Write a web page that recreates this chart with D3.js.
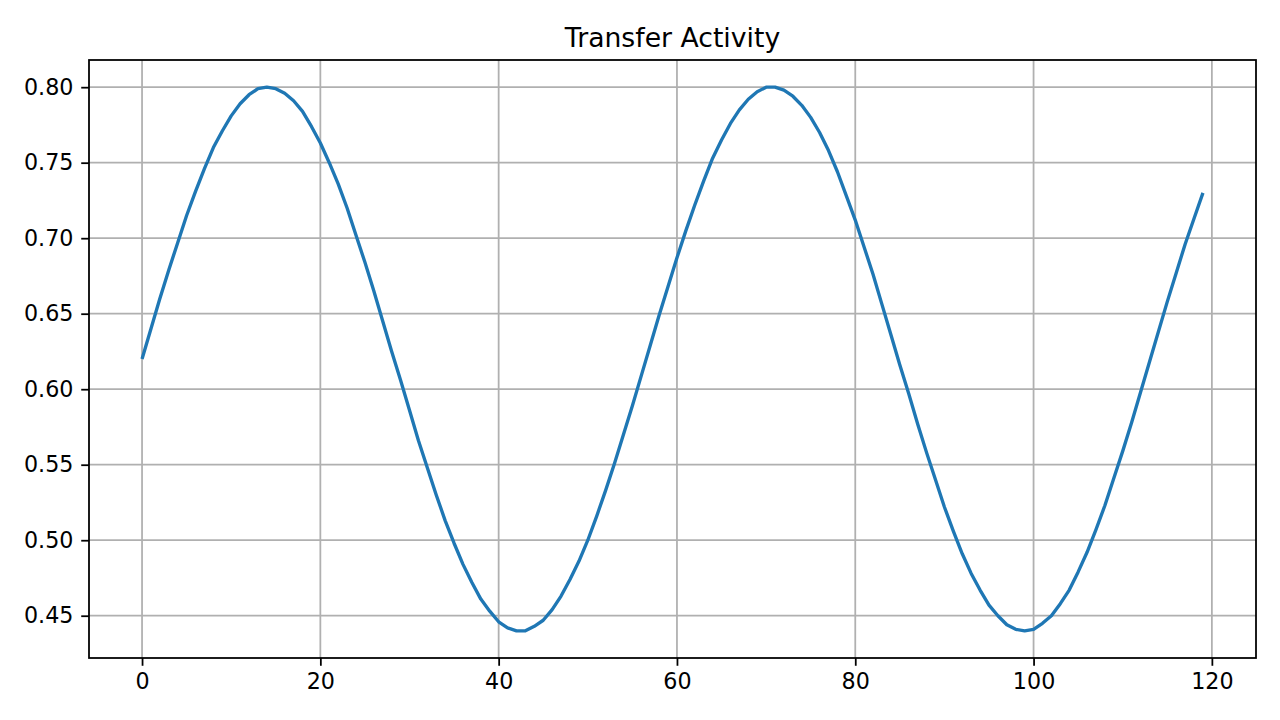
<!DOCTYPE html>
<meta charset="utf-8">
<title>Transfer Activity</title>
<style>
body { margin: 0; background: #fff; }
svg { display: block; font-family: "DejaVu Sans", sans-serif; }
</style>
<body></body>
<script src="https://d3js.org/d3.v7.min.js"></script>
<script>
var chartTitle = 'Transfer Activity';

// activity per step
var activity = [
  0.620, 0.640, 0.660, 0.679, 0.697, 0.715, 0.731, 0.746, 0.760, 0.771,
  0.781, 0.789, 0.795, 0.799, 0.800, 0.799, 0.796, 0.791, 0.784, 0.774,
  0.763, 0.750, 0.736, 0.720, 0.702, 0.684, 0.665, 0.645, 0.625, 0.606,
  0.586, 0.566, 0.548, 0.530, 0.513, 0.498, 0.484, 0.472, 0.461, 0.453,
  0.446, 0.442, 0.440, 0.440, 0.443, 0.447, 0.454, 0.463, 0.474, 0.486,
  0.500, 0.516, 0.533, 0.551, 0.570, 0.589, 0.609, 0.629, 0.649, 0.668,
  0.687, 0.705, 0.722, 0.738, 0.753, 0.765, 0.776, 0.785, 0.792, 0.797,
  0.800, 0.800, 0.798, 0.794, 0.788, 0.780, 0.770, 0.758, 0.744, 0.728,
  0.712, 0.694, 0.676, 0.656, 0.636, 0.616, 0.597, 0.577, 0.558, 0.540,
  0.522, 0.506, 0.491, 0.478, 0.467, 0.457, 0.450, 0.444, 0.441, 0.440,
  0.441, 0.445, 0.450, 0.458, 0.467, 0.479, 0.492, 0.507, 0.523, 0.541,
  0.559, 0.578, 0.598, 0.618, 0.638, 0.658, 0.677, 0.696, 0.713, 0.730
];
var steps = activity.map(function (d, i) { return i; });

var xTicks = [0, 20, 40, 60, 80, 100, 120];
var yTicks = [0.45, 0.50, 0.55, 0.60, 0.65, 0.70, 0.75, 0.80];

var width = 1280, height = 720;
var margin = { top: 60, right: 24, bottom: 62, left: 89 };
var plotW = width - margin.left - margin.right,
    plotH = height - margin.top - margin.bottom;

// points -> pixels (figure is drawn at 160 dpi)
var pt = 160 / 72;

// matplotlib style 5% padding
var xMin = d3.min(steps), xMax = d3.max(steps),
    yMin = d3.min(activity), yMax = d3.max(activity);
var xPad = (xMax - xMin) * 0.05, yPad = (yMax - yMin) * 0.05;

var x = d3.scaleLinear().domain([xMin - xPad, xMax + xPad]).range([0, plotW]);
var y = d3.scaleLinear().domain([yMin - yPad, yMax + yPad]).range([plotH, 0]);

var svg = d3.select('body').append('svg')
  .attr('width', width)
  .attr('height', height);

var g = svg.append('g')
  .attr('transform', 'translate(' + margin.left + ',' + margin.top + ')');

// grid
g.append('g').selectAll('line')
  .data(xTicks)
  .enter().append('line')
  .attr('x1', function (d) { return x(d); })
  .attr('x2', function (d) { return x(d); })
  .attr('y1', 0).attr('y2', plotH)
  .attr('stroke', '#b0b0b0').attr('stroke-width', 0.8 * pt);

g.append('g').selectAll('line')
  .data(yTicks)
  .enter().append('line')
  .attr('y1', function (d) { return y(d); })
  .attr('y2', function (d) { return y(d); })
  .attr('x1', 0).attr('x2', plotW)
  .attr('stroke', '#b0b0b0').attr('stroke-width', 0.8 * pt);

// line
var line = d3.line()
  .x(function (d, i) { return x(steps[i]); })
  .y(function (d) { return y(d); });

g.append('path')
  .datum(activity)
  .attr('d', line)
  .attr('fill', 'none')
  .attr('stroke', '#1f77b4')
  .attr('stroke-width', 1.5 * pt)
  .attr('stroke-linejoin', 'round')
  .attr('stroke-linecap', 'butt');

// axes
var xAxis = g.append('g')
  .attr('transform', 'translate(0,' + plotH + ')')
  .call(d3.axisBottom(x).tickValues(xTicks).tickSize(3.5 * pt).tickPadding(3.5 * pt).tickFormat(d3.format('d')));

var yAxis = g.append('g')
  .call(d3.axisLeft(y).tickValues(yTicks).tickSize(3.5 * pt).tickPadding(3.5 * pt).tickFormat(d3.format('.2f')));

[xAxis, yAxis].forEach(function (a) {
  a.select('.domain').remove();
  a.selectAll('.tick line').attr('stroke', '#000').attr('stroke-width', 0.8 * pt);
  a.selectAll('.tick text')
    .attr('fill', '#000')
    .style('font-size', (10 * pt) + 'px')
    .style('font-family', '"DejaVu Sans", sans-serif');
});

// frame
g.append('rect')
  .attr('x', 0).attr('y', 0)
  .attr('width', plotW).attr('height', plotH)
  .attr('fill', 'none')
  .attr('stroke', '#000')
  .attr('stroke-width', 0.8 * pt);

svg.append('text')
  .attr('x', margin.left + plotW / 2)
  .attr('y', margin.top - 6 * pt)
  .attr('text-anchor', 'middle')
  .style('font-size', (12 * pt) + 'px')
  .attr('fill', '#000')
  .text(chartTitle);
</script>
